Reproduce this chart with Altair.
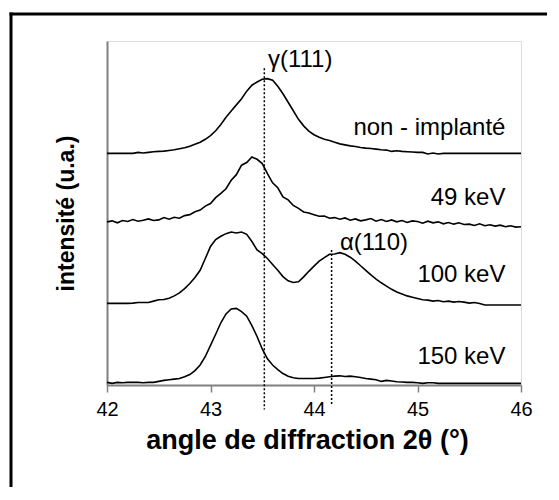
import altair as alt
import numpy as np
import pandas as pd

# 2-theta sampling grid (degrees)
theta = np.round(np.linspace(42.0, 46.0, 81), 2)

series_names = ["non - implanté", "49 keV", "100 keV", "150 keV"]
offsets = [70.7, 48.3, 24.4, 0.5]

non_implante = [0.0,0.0,0.0,0.0,0.0,0.0,0.3,0.1,0.3,0.5,
 0.6,0.7,0.9,1.1,1.4,1.7,2.2,2.8,3.4,4.3,
 5.4,6.9,8.8,11.0,12.9,14.8,16.7,19.0,20.8,21.8,
 22.6,22.8,22.3,20.5,18.2,15.6,13.0,10.4,8.4,6.8,
 5.7,4.9,4.3,3.9,3.4,2.9,2.6,2.3,2.1,1.8,
 1.6,1.5,1.3,1.1,1.0,0.6,0.8,0.6,0.5,0.4,
 0.3,0.3,-0.2,0.1,-0.2,0.0,0.0,0.0,0.0,0.0,
 0.0,0.0,0.0,0.0,0.0,0.0,0.0,0.0,0.0,0.0,
 0.0]

kev49 = [1.5,1.8,1.2,1.9,1.6,2.2,1.7,2.0,2.4,1.9,
 2.1,2.8,2.3,2.9,2.6,3.4,3.7,4.6,5.1,6.3,
 7.1,8.9,10.2,11.6,14.2,15.9,18.8,19.6,21.3,20.6,
 19.3,16.2,13.4,11.9,9.1,8.2,6.5,5.6,4.5,4.2,
 3.7,3.2,3.3,2.6,2.8,2.3,2.7,2.0,2.4,1.8,
 2.1,2.5,1.7,2.2,1.6,2.1,1.5,1.9,1.3,1.8,
 1.6,1.1,1.7,1.2,1.5,0.9,1.3,0.8,1.2,0.7,
 0.8,0.4,0.9,0.3,0.6,0.2,0.5,0.0,0.3,-0.1,
 0.0]

kev100 = [0.5,0.5,0.5,0.5,0.5,0.6,0.8,0.8,0.8,1.2,
 1.6,1.7,2.1,2.8,3.7,5.0,6.6,8.4,10.6,14.2,
 17.9,20.0,21.0,21.8,22.3,22.0,22.3,21.6,19.4,16.8,
 15.7,14.2,12.4,10.6,8.7,7.4,6.9,7.1,8.6,10.3,
 11.9,13.4,14.5,15.5,15.6,16.0,15.5,14.6,13.4,12.0,
 10.6,9.2,7.9,6.8,5.8,4.8,4.0,3.4,2.8,2.4,
 2.0,1.6,1.5,1.2,1.4,1.0,1.2,0.9,1.1,0.9,
 0.6,0.8,0.5,0.0,0.0,0.0,0.0,0.0,0.0,0.0,
 0.0]

kev150 = [0.3,0.0,0.3,0.2,0.3,0.3,0.3,0.2,0.3,0.3,
 0.6,0.9,1.1,1.3,1.5,2.0,2.7,3.9,5.6,8.2,
 11.6,15.0,18.5,21.2,22.7,22.9,21.9,20.5,17.6,14.3,
 10.5,7.5,5.6,4.2,3.0,2.2,1.7,1.5,1.5,1.5,
 1.5,1.6,1.8,2.0,2.2,2.3,2.1,2.2,2.0,1.8,
 1.5,1.3,1.1,0.6,0.9,0.7,0.5,0.4,0.3,0.3,
 0.2,0.0,0.2,0.2,0.0,0.0,0.0,0.0,0.0,0.0,
 0.0,0.0,0.0,0.0,0.0,0.0,0.0,0.0,0.0,0.0,
 0.0]

label_theta = [45.85, 45.85, 45.85, 45.85]
label_y = [78.4, 57.0, 33.6, 8.6]

peak_names = ["γ(111)", "α(110)"]
peak_theta = [43.52, 44.17]
peak_top = [96.7, 41.2]
peak_bottom = [-7.5, -6.0]
peak_label_theta = [43.555, 44.25]
peak_label_y = [99.2, 43.3]

FONT = "Liberation Sans"

rows = []
for name, off, vals in zip(series_names, offsets, [non_implante, kev49, kev100, kev150]):
    for t, v in zip(theta, vals):
        rows.append({"theta": float(t), "y": v + off, "series": name})
df = pd.DataFrame(rows)

xscale = alt.Scale(domain=[42, 46], nice=False, zero=False)
yscale = alt.Scale(domain=[0, 105], nice=False, zero=False)

lines = alt.Chart(df).mark_line(color="black", strokeWidth=1.6).encode(
    x=alt.X("theta:Q", scale=xscale,
            axis=alt.Axis(title="angle de diffraction 2θ (°)", values=[42, 43, 44, 45, 46],
                          format="d", grid=False, tickSize=7, tickColor="#808080",
                          tickWidth=1.5, domainColor="#808080", domainWidth=2,
                          labelFlush=False, labelOverlap=False,
                          labelFont=FONT, labelFontSize=20, labelColor="black",
                          labelPadding=7, titleFont=FONT, titleFontSize=27,
                          titleFontWeight="bold", titleColor="black",
                          titleX=200, titleY=55, titleBaseline="middle", titleAlign="center")),
    y=alt.Y("y:Q", scale=yscale,
            axis=alt.Axis(title="intensité (u.a.)", labels=False, ticks=False, grid=False,
                          domainColor="#808080", domainWidth=2,
                          titleFont=FONT, titleFontSize=23, titleFontWeight="bold",
                          titleColor="black", titleX=-41, titleY=172,
                          titleBaseline="middle", titleAlign="center", titleAngle=270)),
    detail="series:N",
)

labels_df = pd.DataFrame({"theta": label_theta, "y": label_y, "text": series_names})
labels = alt.Chart(labels_df).mark_text(align="right", baseline="middle", font=FONT,
                                        fontSize=24, color="black").encode(
    x=alt.X("theta:Q", scale=xscale), y=alt.Y("y:Q", scale=yscale), text="text:N")

peaks_df = pd.DataFrame({"theta": peak_theta, "top": peak_top, "bottom": peak_bottom,
                         "lt": peak_label_theta, "ly": peak_label_y, "text": peak_names})
rules = alt.Chart(peaks_df).mark_rule(color="black", strokeWidth=1.5, strokeDash=[2, 2]).encode(
    x=alt.X("theta:Q", scale=xscale), y=alt.Y("top:Q", scale=yscale), y2="bottom:Q")
peak_labels = alt.Chart(peaks_df).mark_text(align="left", baseline="middle", font=FONT,
                                            fontSize=24, color="black").encode(
    x=alt.X("lt:Q", scale=xscale), y=alt.Y("ly:Q", scale=yscale), text="text:N")

# outer picture frame (top and left edges, running towards the page edge)
frame_top = alt.Chart(pd.DataFrame({"k": [0]})).mark_rule(color="black", strokeWidth=3).encode(
    x=alt.value(-97.5), x2=alt.value(440), y=alt.value(-27))
frame_left = alt.Chart(pd.DataFrame({"k": [0]})).mark_rule(color="black", strokeWidth=3).encode(
    x=alt.value(-96), y=alt.value(-28.5), y2=alt.value(446))

chart = alt.layer(lines, rules, labels, peak_labels, frame_top, frame_left).properties(
    width=414, height=344,
    autosize=alt.AutoSizeParams(type="none"),
    padding={"left": 99, "top": 33, "right": 30, "bottom": 107},
).configure_view(stroke="#808080", strokeWidth=2).configure(background="white")

chart.save("out.html", embed_options={"renderer": "svg", "actions": False})
